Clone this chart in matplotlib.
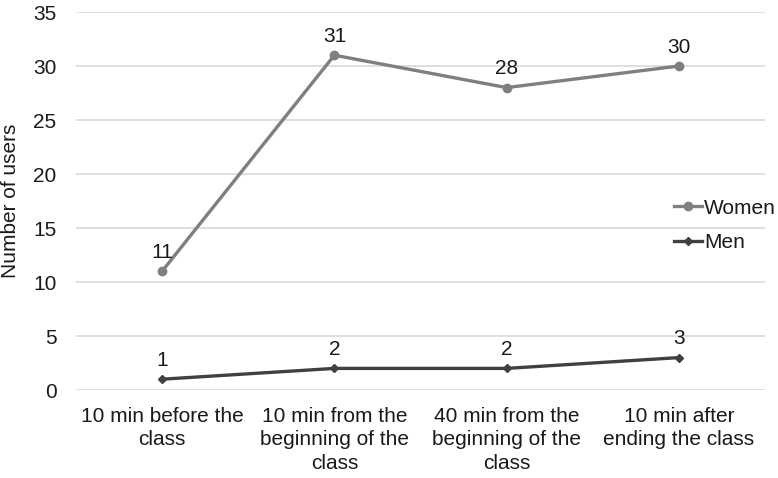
import matplotlib
matplotlib.use("Agg")
import matplotlib.pyplot as plt

plt.rcParams['font.family'] = ['Liberation Sans', 'DejaVu Sans']

categories = ["10 min before the\nclass", "10 min from the\nbeginning of the\nclass",
              "40 min from the\nbeginning of the\nclass", "10 min after\nending the class"]
women = [11, 31, 28, 30]
men = [1, 2, 2, 3]
yticks = [0, 5, 10, 15, 20, 25, 30, 35]

FS = 15
TXT = '#1a1a1a'

fig = plt.figure(figsize=(7.78, 4.78), dpi=100)
ax = fig.add_axes([76/778, 1 - 390/478, 689/778, 378/478])

x = list(range(len(categories)))
ax.plot(x, women, color='#7f7f7f', lw=2.4, marker='o', ms=6, label='Women')
ax.plot(x, men, color='#404040', lw=2.4, marker='D', ms=4.5, label='Men')

for xi, v in zip(x, women):
    ax.annotate(str(v), (xi, v), xytext=(0, 9.5), textcoords='offset points',
                ha='center', va='baseline', fontsize=FS, color=TXT)
for xi, v in zip(x, men):
    ax.annotate(str(v), (xi, v), xytext=(0, 9.5), textcoords='offset points',
                ha='center', va='baseline', fontsize=FS, color=TXT)

ax.set_xlim(-0.5, 3.5)
ax.set_ylim(0, 35)
ax.set_yticks(yticks)
ax.set_yticklabels([str(t) for t in yticks], fontsize=FS, color=TXT)
ax.set_xticks(x)
ax.set_xticklabels(categories, fontsize=FS, color=TXT, linespacing=1.32)
ax.tick_params(axis='x', length=0, pad=12)
ax.tick_params(axis='y', length=0, pad=14)
ax.yaxis.grid(True, color='#d9d9d9', lw=1.2)
ax.set_axisbelow(True)
for s in ax.spines.values():
    s.set_visible(False)
fig.text(11/778, 1 - 201/478, "Number of users", fontsize=FS, color=TXT,
         rotation=90, ha='center', va='center')

leg = fig.legend(loc='center left', bbox_to_anchor=(674/778, 1 - 225.5/478), frameon=False,
                 fontsize=FS, handlelength=1.35, handletextpad=0.1, labelspacing=0.75,
                 borderaxespad=0, borderpad=0)
for t in leg.get_texts():
    t.set_color(TXT)

fig.savefig("out.png", dpi=100)
